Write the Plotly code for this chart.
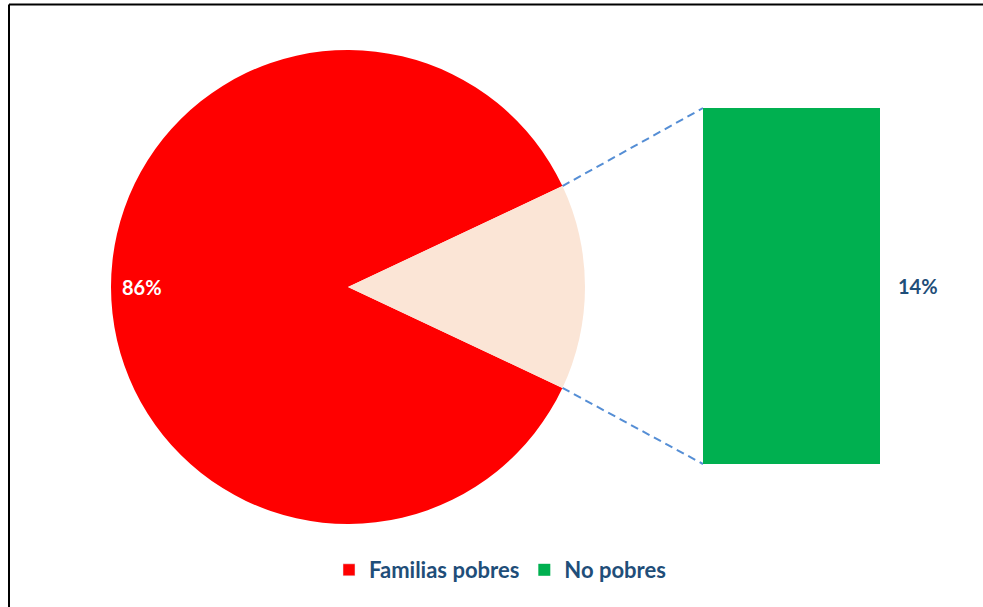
import numpy as np
import plotly.graph_objects as go

# ---------------- data ----------------
labels = ["Familias pobres", "No pobres"]
values = [86, 14]
pie_colors = ["#FF0000", "#FBE5D6"]
legend_colors = ["#FF0000", "#00B050"]
bar_value = values[1]

# ---------------- layout geometry (pixels) ----------------
W, H = 983, 607
cx, cy, R = 348, 287, 237          # pie centre / radius
bx0, bx1, by0, by1 = 703, 880, 108, 464   # bar box
frame_x, frame_y = 9, 4.5          # visible left / top edge of the chart frame
FONT = "Lato"
TXT_BLUE = "#1F4E79"

fig = go.Figure()

# start angle (clockwise from 12 o'clock) so the small slice is centred at 3 o'clock
total = sum(values)
half = values[1] / total * 180.0
rotation = 90 + half

fig.add_trace(go.Pie(
    labels=labels, values=values, sort=False, direction="clockwise",
    rotation=rotation,
    marker=dict(colors=pie_colors, line=dict(width=0)),
    domain=dict(x=[(cx - R) / W, (cx + R) / W], y=[1 - (cy + R) / H, 1 - (cy - R) / H]),
    textinfo="none",
    showlegend=False, hoverinfo="label+percent",
))

# label of the big slice, placed near its outer edge (left side)
fig.add_annotation(
    x=cx - 0.868 * R, y=cy, xref="x", yref="y", xanchor="center", yanchor="middle",
    text=f"{round(values[0] / total * 100)}%", showarrow=False,
    font=dict(family=FONT, size=20, color="white", weight="bold"),
)

# connector lines from the small slice edges to the bar corners
ang = np.deg2rad(half)
p_top = (cx + R * np.cos(ang), cy - R * np.sin(ang))
p_bot = (cx + R * np.cos(ang), cy + R * np.sin(ang))
fig.add_trace(go.Scatter(
    x=[p_top[0], bx0, None, p_bot[0], bx0], y=[p_top[1], by0, None, p_bot[1], by1],
    mode="lines", line=dict(color="#558ED5", width=2, dash="8px,5px"),
    showlegend=False, hoverinfo="skip", xaxis="x", yaxis="y",
))

# legend proxy for the first category
fig.add_trace(go.Bar(x=[None], y=[None], name=labels[0], marker_color=legend_colors[0],
                     xaxis="x", yaxis="y", showlegend=True))

# the bar of the "pie of bar"
fig.add_trace(go.Bar(
    x=[labels[1]], y=[bar_value], name=labels[1], marker=dict(color=legend_colors[1], line=dict(width=0)),
    width=1, xaxis="x2", yaxis="y2", showlegend=True, hoverinfo="y",
))

fig.add_annotation(
    x=labels[1], y=bar_value / 2, xref="x2", yref="y2", xanchor="left", yanchor="middle",
    xshift=(bx1 - bx0) / 2 + 16, text=f"{bar_value}%", showarrow=False,
    font=dict(family=FONT, size=20, color=TXT_BLUE, weight="bold"),
)

# outer frame (only top and left edges are inside the view)
fx, fy = frame_x / W, 1 - frame_y / H
fig.add_shape(type="line", xref="paper", yref="paper", x0=fx, x1=1, y0=fy, y1=fy,
              line=dict(color="black", width=2), layer="below")
fig.add_shape(type="line", xref="paper", yref="paper", x0=fx, x1=fx, y0=0, y1=fy,
              line=dict(color="black", width=2), layer="below")

fig.update_layout(
    width=W, height=H, margin=dict(l=0, r=0, t=0, b=0),
    paper_bgcolor="white", plot_bgcolor="rgba(0,0,0,0)",
    bargap=0,
    xaxis=dict(domain=[0, 1], range=[0, W], visible=False, fixedrange=True),
    yaxis=dict(domain=[0, 1], range=[H, 0], visible=False, fixedrange=True),
    xaxis2=dict(domain=[bx0 / W, bx1 / W], range=[-0.5, 0.5], visible=False, fixedrange=True, anchor="y2"),
    yaxis2=dict(domain=[1 - by1 / H, 1 - by0 / H], range=[0, bar_value], visible=False, fixedrange=True, anchor="x2"),
    legend=dict(orientation="h", x=500 / W, xanchor="center", y=1 - 570 / H, yanchor="middle",
                font=dict(family=FONT, size=22, color=TXT_BLUE, weight="bold"),
                bgcolor="rgba(0,0,0,0)", traceorder="normal"),
    showlegend=True,
)

fig.write_html("out.html", config={"displayModeBar": False},
               post_script="document.body.style.margin='0';document.body.style.overflow='hidden';")
